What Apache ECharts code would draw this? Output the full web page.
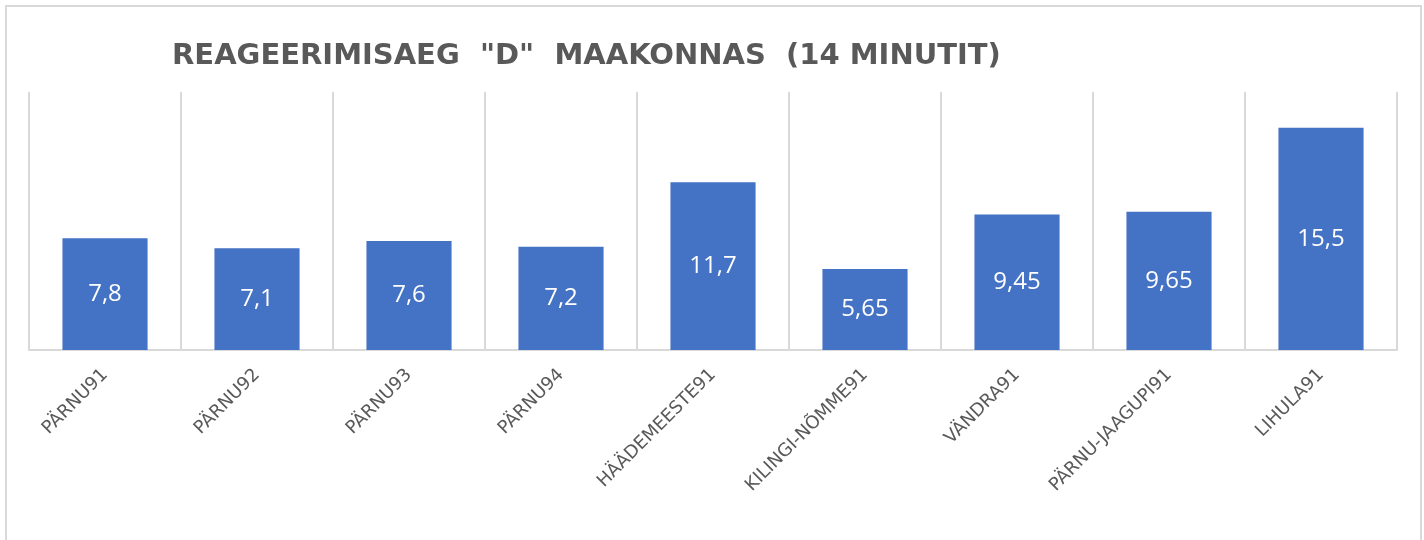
<!DOCTYPE html>
<html>
<head>
<meta charset="utf-8">
<script src="https://cdn.jsdelivr.net/npm/echarts@6/dist/echarts.min.js"></script>
<style>html,body{margin:0;padding:0;background:#fff}#c{width:1424px;height:540px}</style>
</head>
<body>
<div id="c"></div>
<script>
const titleText = 'REAGEERIMISAEG  "D"  MAAKONNAS  (14 MINUTIT)';
const categories = ['PÄRNU91','PÄRNU92','PÄRNU93','PÄRNU94','HÄÄDEMEESTE91','KILINGI-NÕMME91','VÄNDRA91','PÄRNU-JAAGUPI91','LIHULA91'];
const values = [7.8, 7.1, 7.6, 7.2, 11.7, 5.65, 9.45, 9.65, 15.5];

const chart = echarts.init(document.getElementById('c'), null, {renderer:'canvas'});
chart.setOption({
  animation:false,
  backgroundColor:'#ffffff',
  title:{
    text:titleText,
    left:167, top:37,
    textStyle:{fontFamily:'DejaVu Sans', fontWeight:'bold', fontSize:29, color:'#595959'}
  },
  graphic:[{
    type:'rect', shape:{x:6,y:6,width:1415,height:560},
    style:{fill:'none', stroke:'#d9d9d9', lineWidth:2}, silent:true
  }],
  grid:{left:29, right:27, top:92, bottom:190, containLabel:false},
  xAxis:{
    type:'category', data:categories,
    axisLine:{show:true, lineStyle:{color:'#d9d9d9', width:2}},
    axisTick:{show:false},
    splitLine:{show:true, lineStyle:{color:'#d9d9d9', width:2}},
    axisLabel:{rotate:45, margin:22, interval:0, fontFamily:'DejaVu Sans', fontSize:18, color:'#595959'}
  },
  yAxis:{
    type:'value', min:0, max:18, show:false,
    splitLine:{show:false}
  },
  series:[{
    type:'bar', data:values, barCategoryGap:'44%',
    itemStyle:{color:'#4472C4'},
    label:{show:true, position:'inside', color:'#ffffff', fontFamily:'Open Sans', fontSize:24,
      formatter:p=>String(p.value).replace('.',',')}
  }]
});
</script>
</body>
</html>
